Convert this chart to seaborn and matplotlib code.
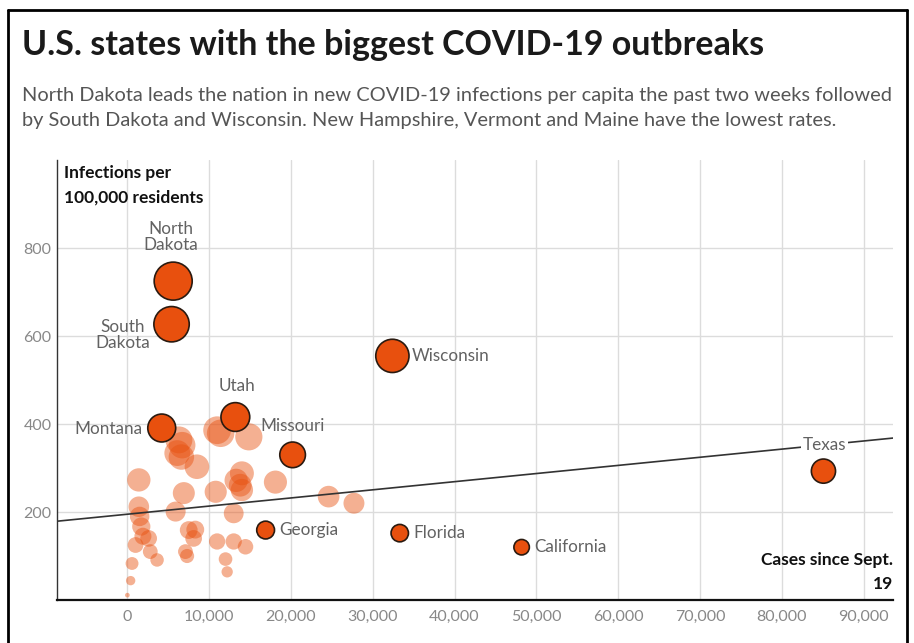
import numpy as np
import pandas as pd
import matplotlib
matplotlib.use("Agg")
import matplotlib.pyplot as plt
from matplotlib.lines import Line2D
from matplotlib.ticker import FuncFormatter
import seaborn as sns

# --- DATA ---
# highlighted states: cases since Sept. 19, infections per 100,000 residents
hl_states = ["North\nDakota", "South\nDakota", "Wisconsin", "Montana", "Utah",
             "Missouri", "Georgia", "Florida", "California", "Texas"]
hl_cases = [5600, 5400, 32400, 4200, 13200, 20200, 16900, 33300, 48200, 85100]
hl_rate = [725, 627, 555, 391, 416, 330, 159, 152, 120, 293]

# all other states (unlabelled, faded)
other_cases = [6700, 6300, 6100, 8500, 1400, 6900, 5900, 10800, 10970, 11400,
               14850, 14000, 13800, 14000, 18100, 13000, 1400, 1500, 1700, 2600,
               1000, 3630, 570, 400, 0, 7500, 8100, 7100, 7300, 10970,
               13000, 14440, 12000, 12200, 24600, 27700, 13300, 6600, 2800, 8300,
               1900]
other_rate = [352, 364, 334, 303, 273, 243, 201, 246, 386, 379,
              371, 288, 261, 250, 268, 197, 212, 190, 167, 140,
              125, 91, 83, 44, 11, 159, 140, 110, 100, 133,
              133, 121, 93, 64, 235, 220, 272, 325, 110, 160,
              145]

# trend line (intercept, slope per case)
trend_intercept = 195
trend_slope = 0.00185

x_ticks = list(range(0, 100000, 10000))
y_ticks = [200, 400, 600, 800]

# label offsets in points, alignment
label_style = {
    "North\nDakota": ((-2, 32), "center"),
    "South\nDakota": ((-35, -8), "center"),
    "Wisconsin": ((14, 0), "left"),
    "Montana": ((-14, -1), "right"),
    "Utah": ((1, 22), "center"),
    "Missouri": ((-23, 21), "left"),
    "Georgia": ((10, 0), "left"),
    "Florida": ((10, 0), "left"),
    "California": ((9, 0), "left"),
    "Texas": ((1, 19), "center"),
}

ORANGE = "#E8500E"
GRID = "#dcdcdc"

sns.set_theme(style="white")
plt.rcParams["font.family"] = ["Lato", "DejaVu Sans"]

hl = pd.DataFrame({"state": hl_states, "cases": hl_cases, "rate": hl_rate})
others = pd.DataFrame({"cases": other_cases, "rate": other_rate})

fig = plt.figure(figsize=(9.14, 6.43), dpi=100)
ax = fig.add_axes([0.0624, 0.0669, 0.9146, 0.684])

ax.set_xlim(-8600, 93600)
ax.set_ylim(0, 1000)

size_kw = dict(size="rate", sizes=(0, 1033), size_norm=(0, 1000), legend=False)
sns.scatterplot(data=others, x="cases", y="rate", color=ORANGE, alpha=0.45,
                linewidth=0, ax=ax, zorder=3, **size_kw)
sns.scatterplot(data=hl, x="cases", y="rate", color=ORANGE, edgecolor="#2a1a10",
                linewidth=1.2, ax=ax, zorder=5, **size_kw)

# trend line
xl = np.array(ax.get_xlim())
ax.plot(xl, trend_intercept + trend_slope * xl, color="#333333", lw=1.2, zorder=4)

for _, r in hl.iterrows():
    (dx, dy), ha = label_style[r["state"]]
    kw = {}
    if r["state"] == "Texas":
        kw["bbox"] = dict(boxstyle="square,pad=0.1", fc="white", ec="none")
    ax.annotate(r["state"], (r["cases"], r["rate"]), xytext=(dx, dy),
                textcoords="offset points", ha=ha, va="center", fontsize=12.3,
                color="#626262", linespacing=1.0, zorder=6, **kw)

# axes styling
ax.set_xticks(x_ticks)
ax.set_yticks(y_ticks)
ax.xaxis.set_major_formatter(FuncFormatter(lambda v, p: f"{int(v):,}"))
ax.tick_params(axis="both", length=0, labelsize=11.5, labelcolor="#888888")
ax.tick_params(axis="x", pad=7)
ax.tick_params(axis="y", pad=4)
ax.grid(True, color=GRID, lw=1)
ax.set_axisbelow(True)
for s in ["top", "right"]:
    ax.spines[s].set_visible(False)
ax.spines["bottom"].set_color("#111111")
ax.spines["bottom"].set_linewidth(1.6)
ax.spines["left"].set_color("#333333")
ax.spines["left"].set_linewidth(1.0)
ax.set_xlabel("")
ax.set_ylabel("")

ax.text(0.008, 0.99, "Infections per\n100,000 residents", transform=ax.transAxes,
        ha="left", va="top", fontsize=12.5, fontweight="bold", color="#111111",
        linespacing=1.65)
ax.text(1.0, 0.11, "Cases since Sept.\n19", transform=ax.transAxes,
        ha="right", va="top", fontsize=12.5, fontweight="bold", color="#111111",
        linespacing=1.65)

# title and subtitle
fig.text(0.024, 0.93, "U.S. states with the biggest COVID-19 outbreaks",
         fontsize=24.5, fontweight="bold", color="#1a1a1a", va="center")
fig.text(0.024, 0.832,
         "North Dakota leads the nation in new COVID-19 infections per capita the past two weeks followed\n"
         "by South Dakota and Wisconsin. New Hampshire, Vermont and Maine have the lowest rates.",
         fontsize=14.4, color="#555555", va="center", linespacing=1.6)

# outer frame
frame_kw = dict(color="black", lw=2, transform=fig.transFigure)
fig.add_artist(Line2D([0.009, 0.009], [0.0, 0.985], **frame_kw))
fig.add_artist(Line2D([0.009, 0.992], [0.985, 0.985], **frame_kw))
fig.add_artist(Line2D([0.992, 0.992], [0.0, 0.985], **frame_kw))

fig.savefig("out.png", dpi=100)
